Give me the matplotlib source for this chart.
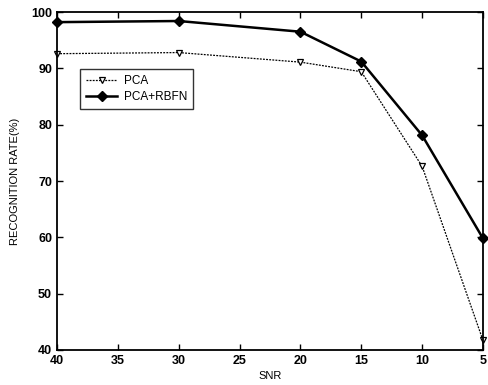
import numpy as np
import matplotlib
matplotlib.use("Agg")
import matplotlib.pyplot as plt

plt.rcParams['font.family'] = ['Liberation Sans', 'DejaVu Sans']

# data
snr = [40, 30, 20, 15, 10, 5]
pca = [92.6, 92.8, 91.1, 89.4, 72.6, 41.7]
pca_rbfn = [98.2, 98.4, 96.5, 91.2, 78.1, 59.8]
xticks = [40, 35, 30, 25, 20, 15, 10, 5]
yticks = [40, 50, 60, 70, 80, 90, 100]

fig = plt.figure(figsize=(4.88, 3.85), dpi=100)
ax = fig.add_axes([57/488, 1 - 350/385, (483-57)/488, (350-12)/385])

ax.plot(snr, pca, color='black', linestyle=(0, (1.5, 1)), linewidth=0.9,
        marker='v', markersize=5, markerfacecolor='white', markeredgecolor='black',
        markeredgewidth=0.9, label='PCA', clip_on=False)
ax.plot(snr, pca_rbfn, color='black', linewidth=1.8,
        marker='D', markersize=5, markerfacecolor='black', label='PCA+RBFN', clip_on=False)

ax.set_xlim(40, 5)
ax.set_ylim(40, 100)
ax.set_xticks(xticks)
ax.set_yticks(yticks)
ax.tick_params(direction='in', top=True, right=True, length=4, labelsize=9, width=1)
for lbl in ax.get_xticklabels() + ax.get_yticklabels():
    lbl.set_fontweight('bold')
for s in ax.spines.values():
    s.set_linewidth(1.3)

ax.set_xlabel('SNR', fontsize=8, labelpad=3)
ax.set_ylabel('RECOGNITION RATE(%)', fontsize=8, labelpad=8)

leg = ax.legend(loc='upper left', bbox_to_anchor=(0.055, 0.83), fontsize=8.5,
                frameon=True, fancybox=False, edgecolor='black', handlelength=2.6,
                borderaxespad=0, borderpad=0.5, labelspacing=0.3, handletextpad=0.6)
leg.get_frame().set_linewidth(1.0)

fig.savefig('out.png', dpi=100)
